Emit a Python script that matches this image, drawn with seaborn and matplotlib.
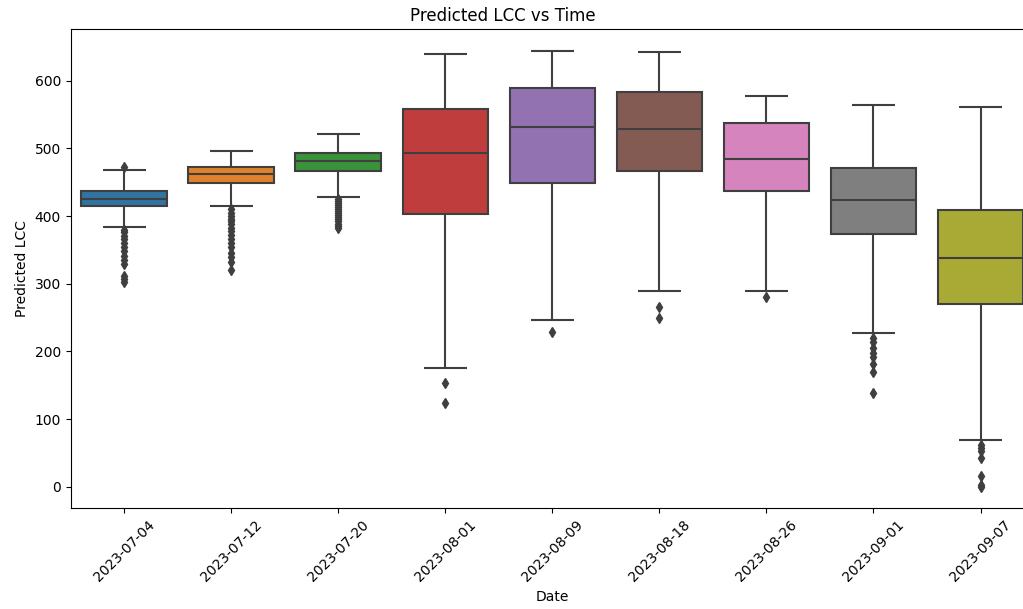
import matplotlib
matplotlib.use("Agg")
import matplotlib.pyplot as plt
import seaborn as sns

# box statistics
dates = ['2023-07-04', '2023-07-12', '2023-07-20', '2023-08-01', '2023-08-09',
         '2023-08-18', '2023-08-26', '2023-09-01', '2023-09-07']
q1 = [415, 449, 466.5, 402.5, 449, 466.5, 437.4, 373.4, 270.4]
med = [425.5, 461.5, 481, 492.7, 531, 528, 485, 423.7, 338.4]
q3 = [436.5, 472, 493.6, 558.6, 588.7, 583.3, 537, 471.4, 408.4]
whislo = [384, 415, 428.6, 175.9, 246.3, 289, 289, 226.7, 68.5]
whishi = [468.5, 496, 522, 640, 644.3, 642.8, 578, 564.5, 561.6]
fliers = [
    [472, 380, 376, 371, 366, 360, 354, 348, 341, 335, 329, 312, 307, 302],
    [410, 405, 400, 396, 392, 388, 383, 378, 372, 366, 360, 354, 346, 340, 332, 320],
    [425, 422, 419, 416, 413, 410, 407, 404, 401, 398, 395, 392, 389, 386, 383],
    [153.7, 124],
    [228],
    [266, 250],
    [281],
    [220, 214, 205, 198, 191, 182, 170, 138],
    [62, 57, 53, 42, 16, 3, -1],
]

stats = [dict(label=d, q1=a, med=m, q3=b, whislo=lo, whishi=hi, fliers=f)
         for d, a, m, b, lo, hi, f in zip(dates, q1, med, q3, whislo, whishi, fliers)]

colors = sns.color_palette('tab10', len(dates), desat=0.75)
gray = '#3f3f3f'
lw = 1.5

fig = plt.figure(figsize=(10.23, 6.09), dpi=100)
ax = fig.add_axes([0.0691, 0.1663, 0.9417, 0.7856])

art = ax.bxp(stats, positions=range(len(dates)), widths=0.8, patch_artist=True,
             boxprops=dict(edgecolor=gray, linewidth=lw, zorder=0.9),
             whiskerprops=dict(color=gray, linewidth=lw, solid_capstyle='butt'),
             capprops=dict(color=gray, linewidth=lw, solid_capstyle='butt'),
             medianprops=dict(color=gray, linewidth=lw, solid_capstyle='butt'),
             flierprops=dict(marker='d', markerfacecolor=gray, markeredgecolor=gray,
                             markersize=5, linestyle='none'))
for box, c in zip(art['boxes'], colors):
    box.set_facecolor(c)

ax.set_xlim(-0.5, len(dates) - 0.5)
ax.set_ylim(-31, 676)
ax.set_xticks(range(len(dates)))
ax.set_xticklabels(dates, rotation=45)
ax.set_title('Predicted LCC vs Time', x=0.4488)
ax.set_xlabel('Date')
ax.set_ylabel('Predicted LCC')

fig.savefig('out.png', dpi=100)
